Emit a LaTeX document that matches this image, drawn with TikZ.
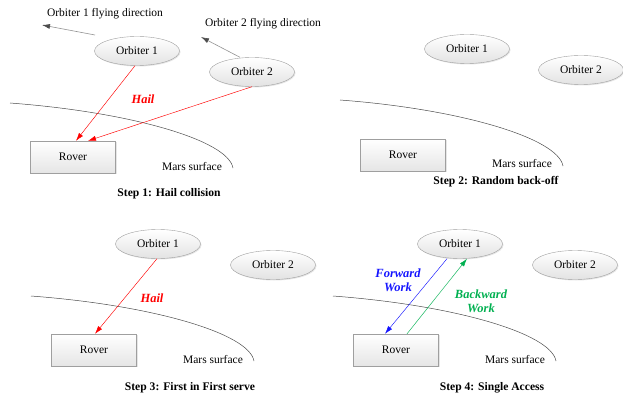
\documentclass[tikz,border=0pt]{standalone}
\usepackage{fontspec}
\setmainfont{Liberation Serif}
\usepackage{tikz}
\usetikzlibrary{shapes.geometric, arrows.meta, shadows}
\definecolor{hailred}{RGB}{255,0,0}
\definecolor{fwdblue}{RGB}{20,20,255}
\definecolor{bwdgreen}{RGB}{0,176,80}

\tikzset{
    orbiter/.style={ellipse, draw=gray!75, top color=white, bottom color=gray!22,
        minimum width=85pt, minimum height=29pt, inner sep=0pt,
        drop shadow={opacity=0.2, shadow xshift=1pt, shadow yshift=-1pt},
        font=\fontsize{11.5}{13}\selectfont},
    rover/.style={rectangle, draw=gray!75, top color=white, bottom color=gray!20,
        minimum width=85pt, minimum height=32pt, inner sep=0pt,
        drop shadow={opacity=0.2, shadow xshift=1pt, shadow yshift=-1pt},
        font=\fontsize{11.5}{13}\selectfont},
    plain/.style={font=\fontsize{11.5}{13}\selectfont, inner sep=0pt},
    steplabel/.style={font=\fontsize{11.6}{13}\selectfont\bfseries, inner sep=0pt},
    msglabel/.style={font=\fontsize{12.5}{14}\selectfont\bfseries\itshape, inner sep=0pt, align=center},
    surface/.style={draw=black!70, line width=0.5pt},
    fly/.style={draw=gray!85, line width=0.6pt, -{Latex[length=8pt, width=5pt, color=black!70]}},
    link/.style={line width=0.45pt, -{Latex[length=8pt, width=5pt]}}
}

\begin{document}
\begin{tikzpicture}[x=1pt, y=-1pt]
    \useasboundingbox (0,0) rectangle (623,398);

    % Step 1: two orbiters hail the rover at once
    \node[orbiter] (orbA1) at (137,51) {Orbiter 1};
    \node[orbiter] (orbA2) at (252,72) {Orbiter 2};
    \node[rover] (roverA) at (73,157) {Rover};
    \draw[surface] (10,103) .. controls (130,112) and (228,140) .. (233,168);
    \node[plain] (marsA) at (192,167) {Mars surface};

    \node[plain] (dirtextA1) at (105,14) {Orbiter 1 flying direction};
    \node[plain] (dirtextA2) at (263,24) {Orbiter 2 flying direction};
    \coordinate (tailA1) at (95,35);
    \coordinate (headA1) at (42,25);
    \coordinate (headA2) at (201,37);
    \draw[fly] (tailA1) -- (headA1);
    \draw[fly] ([xshift=-12pt]orbA2.north) -- (headA2);

    \draw[link, hailred] ([xshift=-2pt]orbA1.south) -- ([xshift=3pt]roverA.north);
    \draw[link, hailred] (orbA2.south) -- ([xshift=15pt]roverA.north);
    \node[msglabel, hailred] (hailA) at (143,99) {Hail};
    \node[steplabel] (stepA) at (169,194) {Step 1: Hail collision};

    % Step 2: both back off
    \node[orbiter] (orbB1) at (467,49) {Orbiter 1};
    \node[orbiter] (orbB2) at (581,70) {Orbiter 2};
    \node[rover] (roverB) at (403,155) {Rover};
    \draw[surface] (340,100) .. controls (460,109) and (558,138) .. (563,166);
    \node[plain] (marsB) at (522,164) {Mars surface};
    \node[steplabel] (stepB) at (496,182) {Step 2: Random back-off};

    % Step 3: first one wins
    \node[orbiter] (orbC1) at (158,244) {Orbiter 1};
    \node[orbiter] (orbC2) at (273,265) {Orbiter 2};
    \node[rover] (roverC) at (94,350) {Rover};
    \draw[surface] (31,296) .. controls (151,305) and (249,333) .. (254,361);
    \node[plain] (marsC) at (213,360) {Mars surface};
    \draw[link, hailred] ([xshift=-1pt]orbC1.south) -- ([xshift=1pt]roverC.north);
    \node[msglabel, hailred] (hailC) at (152,298) {Hail};
    \node[steplabel] (stepC) at (190,388) {Step 3: First in First serve};

    % Step 4: single access
    \node[orbiter] (orbD1) at (460,244) {Orbiter 1};
    \node[orbiter] (orbD2) at (575,265) {Orbiter 2};
    \node[rover] (roverD) at (396,350) {Rover};
    \draw[surface] (333,296) .. controls (453,305) and (551,333) .. (556,361);
    \node[plain] (marsD) at (515,360) {Mars surface};
    \draw[link, fwdblue] ([xshift=-13pt]orbD1.south) -- ([xshift=-11pt]roverD.north);
    \draw[link, bwdgreen] ([xshift=11pt]roverD.north) -- ([xshift=7pt]orbD1.south);
    \node[msglabel, fwdblue] (fwdD) at (398,280) {Forward\\Work};
    \node[msglabel, bwdgreen] (bwdD) at (481,301) {Backward\\Work};
    \node[steplabel] (stepD) at (492,388) {Step 4: Single Access};
\end{tikzpicture}
\end{document}
